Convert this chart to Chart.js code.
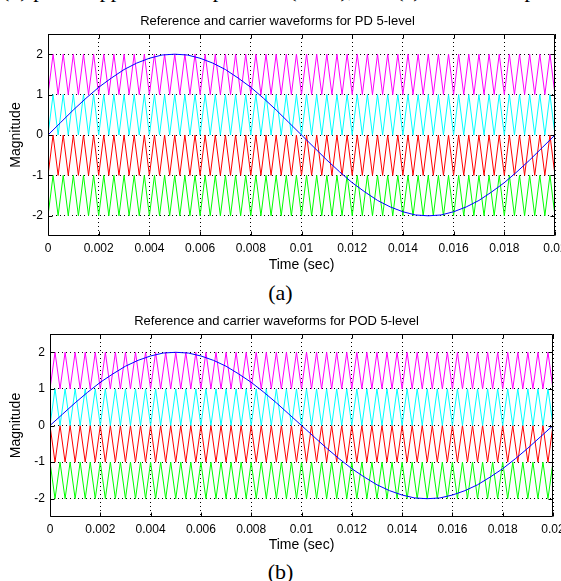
<!DOCTYPE html>
<html>
<head>
<meta charset="utf-8">
<script src="https://cdn.jsdelivr.net/npm/chart.js@4/dist/chart.umd.min.js"></script>
<style>
    body { margin: 0; background: #fff; }
    #page { position: relative; width: 561px; height: 581px; overflow: hidden; background: #fff; }
    #page canvas { position: absolute; left: 0; }
    .caption { position: absolute; left: 0; width: 561px; text-align: center; font-family: "Liberation Serif", "DejaVu Serif", serif; color: #000; white-space: nowrap; }
</style>
</head>
<body>
<div id="page">
    <div class="caption" style="top:-23px; font-size:22px; text-align:left; left:2px;">(b) phase opposition disposition (POD), and (c) alternative phase</div>
    <canvas id="pdChart" width="561" height="262" style="top:12px"></canvas>
    <div class="caption" style="top:280px; font-size:22px;">(a)</div>
    <canvas id="podChart" width="561" height="242" style="top:312px"></canvas>
    <div class="caption" style="top:559px; font-size:22px;">(b)</div>
</div>
<script>
// Reference sine (blue), sampled every 0.0005 s
const sineTimes = [
    0, 0.0005, 0.001, 0.0015, 0.002, 0.0025, 0.003, 0.0035, 0.004, 0.0045,
    0.005, 0.0055, 0.006, 0.0065, 0.007, 0.0075, 0.008, 0.0085, 0.009, 0.0095,
    0.01, 0.0105, 0.011, 0.0115, 0.012, 0.0125, 0.013, 0.0135, 0.014, 0.0145,
    0.015, 0.0155, 0.016, 0.0165, 0.017, 0.0175, 0.018, 0.0185, 0.019, 0.0195,
    0.02
];
const sineValues = [
    0, 0.31, 0.62, 0.91, 1.18, 1.41, 1.62, 1.78, 1.90, 1.98,
    2.0, 1.98, 1.90, 1.78, 1.62, 1.41, 1.18, 0.91, 0.62, 0.31,
    0, -0.31, -0.62, -0.91, -1.18, -1.41, -1.62, -1.78, -1.90, -1.98,
    -2.0, -1.98, -1.90, -1.78, -1.62, -1.41, -1.18, -0.91, -0.62, -0.31,
    0
];

// Triangle carrier vertices (time of each corner)
const carrierTimes = [
    0, 0.0002, 0.0004, 0.0006, 0.0008, 0.001, 0.0012, 0.0014, 0.0016, 0.0018,
    0.002, 0.0022, 0.0024, 0.0026, 0.0028, 0.003, 0.0032, 0.0034, 0.0036, 0.0038,
    0.004, 0.0042, 0.0044, 0.0046, 0.0048, 0.005, 0.0052, 0.0054, 0.0056, 0.0058,
    0.006, 0.0062, 0.0064, 0.0066, 0.0068, 0.007, 0.0072, 0.0074, 0.0076, 0.0078,
    0.008, 0.0082, 0.0084, 0.0086, 0.0088, 0.009, 0.0092, 0.0094, 0.0096, 0.0098,
    0.01, 0.0102, 0.0104, 0.0106, 0.0108, 0.011, 0.0112, 0.0114, 0.0116, 0.0118,
    0.012, 0.0122, 0.0124, 0.0126, 0.0128, 0.013, 0.0132, 0.0134, 0.0136, 0.0138,
    0.014, 0.0142, 0.0144, 0.0146, 0.0148, 0.015, 0.0152, 0.0154, 0.0156, 0.0158,
    0.016, 0.0162, 0.0164, 0.0166, 0.0168, 0.017, 0.0172, 0.0174, 0.0176, 0.0178,
    0.018, 0.0182, 0.0184, 0.0186, 0.0188, 0.019, 0.0192, 0.0194, 0.0196, 0.0198,
    0.02
];
// 0 = bottom of the band, 1 = top of the band
const carrierShape = [
    0, 1, 0, 1, 0, 1, 0, 1, 0, 1,
    0, 1, 0, 1, 0, 1, 0, 1, 0, 1,
    0, 1, 0, 1, 0, 1, 0, 1, 0, 1,
    0, 1, 0, 1, 0, 1, 0, 1, 0, 1,
    0, 1, 0, 1, 0, 1, 0, 1, 0, 1,
    0, 1, 0, 1, 0, 1, 0, 1, 0, 1,
    0, 1, 0, 1, 0, 1, 0, 1, 0, 1,
    0, 1, 0, 1, 0, 1, 0, 1, 0, 1,
    0, 1, 0, 1, 0, 1, 0, 1, 0, 1,
    0, 1, 0, 1, 0, 1, 0, 1, 0, 1,
    0
];

// Carrier bands (lower edge of each band)
const carrierNames = ['Carrier 1', 'Carrier 2', 'Carrier 3', 'Carrier 4'];
const carrierLevels = [1, 0, -1, -2];
const pdInverted = [false, false, false, false];
const podInverted = [false, false, true, true];

// Axis ticks
const xTickValues = [0, 0.002, 0.004, 0.006, 0.008, 0.01, 0.012, 0.014, 0.016, 0.018, 0.02];
const xTickLabels = ['0', '0.002', '0.004', '0.006', '0.008', '0.01', '0.012', '0.014', '0.016', '0.018', '0.02'];
const yTickValues = [-2, -1, 0, 1, 2];
const yTickLabels = ['-2', '-1', '0', '1', '2'];

const carrierColors = ['rgb(255, 0, 255)', 'rgb(0, 255, 255)', 'rgb(255, 0, 0)', 'rgb(0, 255, 0)'];
const FONT = '"Liberation Sans", Arial, sans-serif';

// Box around the axes plus MATLAB style inward tick marks
const axesBoxPlugin = {
    id: 'axesBox',
    afterDraw(chart) {
        const { ctx, chartArea: a, scales: { x, y } } = chart;
        const l = Math.round(a.left) + 0.5, r = Math.round(a.right) - 0.5;
        const t = Math.round(a.top) + 0.5, b = Math.round(a.bottom) - 0.5;
        ctx.save();
        ctx.strokeStyle = '#000';
        ctx.lineWidth = 1;
        ctx.beginPath();
        ctx.rect(l, t, r - l, b - t);
        x.ticks.forEach(tk => {
            const px = Math.round(x.getPixelForValue(tk.value)) + 0.5;
            ctx.moveTo(px, b); ctx.lineTo(px, b - 4);
            ctx.moveTo(px, t); ctx.lineTo(px, t + 4);
        });
        y.ticks.forEach(tk => {
            const py = Math.round(y.getPixelForValue(tk.value)) + 0.5;
            ctx.moveTo(l, py); ctx.lineTo(l + 4, py);
            ctx.moveTo(r, py); ctx.lineTo(r - 4, py);
        });
        ctx.stroke();
        ctx.restore();
    }
};

const WaveCharts = {
    charts: {},

    // Build datasets: reference on top, carriers beneath
    buildDatasets(inverted) {
        const sets = [{
            label: 'Reference',
            data: sineTimes.map((t, i) => ({ x: t, y: sineValues[i] })),
            borderColor: 'rgb(0, 0, 255)',
            borderWidth: 1
        }];
        carrierNames.forEach((name, c) => {
            sets.push({
                label: name,
                data: carrierTimes.map((t, i) => ({
                    x: t,
                    y: carrierLevels[c] + (inverted[c] ? 1 - carrierShape[i] : carrierShape[i])
                })),
                borderColor: carrierColors[c],
                borderWidth: 1
            });
        });
        return sets;
    },

    createWaveformChart(canvasId, title, inverted, box) {
        const ctx = document.getElementById(canvasId).getContext('2d');
        this.charts[canvasId] = new Chart(ctx, {
            type: 'line',
            data: { datasets: this.buildDatasets(inverted) },
            plugins: [axesBoxPlugin],
            options: {
                responsive: false,
                animation: false,
                devicePixelRatio: 1,
                elements: { point: { radius: 0 }, line: { tension: 0 } },
                layout: { padding: { left: 0, right: box.right, top: 0, bottom: 0 } },
                plugins: {
                    legend: { display: false },
                    tooltip: { enabled: false },
                    title: {
                        display: true,
                        text: title,
                        color: '#000',
                        font: { family: FONT, size: 13, weight: 'normal' },
                        padding: { top: 1.7, bottom: 4.7 }
                    }
                },
                scales: {
                    x: {
                        type: 'linear',
                        min: 0,
                        max: 0.02,
                        afterBuildTicks: s => { s.ticks = xTickValues.map(v => ({ value: v })); },
                        afterFit: s => { s.height = box.xHeight; s.paddingLeft = 0; s.paddingRight = 0; },
                        grid: { color: '#000', lineWidth: 1, drawTicks: false },
                        border: { display: false, dash: [1, 3] },
                        ticks: {
                            color: '#000',
                            font: { family: FONT, size: 12 },
                            padding: 5,
                            autoSkip: false,
                            maxRotation: 0,
                            callback: (v, i) => xTickLabels[i]
                        },
                        title: {
                            display: true,
                            text: 'Time (sec)',
                            color: '#000',
                            font: { family: FONT, size: 14 },
                            padding: { top: 0, bottom: 0 }
                        }
                    },
                    y: {
                        min: -2.5,
                        max: 2.5,
                        afterBuildTicks: s => { s.ticks = yTickValues.map(v => ({ value: v })); },
                        afterFit: s => { s.width = box.yWidth; s.paddingTop = 0; s.paddingBottom = 0; },
                        grid: { color: '#000', lineWidth: 1, drawTicks: false },
                        border: { display: false, dash: [1, 3] },
                        ticks: {
                            color: '#000',
                            font: { family: FONT, size: 12 },
                            padding: 5,
                            callback: (v, i) => yTickLabels[i]
                        },
                        title: {
                            display: true,
                            text: 'Magnitude',
                            color: '#000',
                            font: { family: FONT, size: 14 },
                            padding: { top: 7.6, bottom: 0 }
                        }
                    }
                }
            }
        });
    }
};

WaveCharts.createWaveformChart('pdChart', 'Reference and carrier waveforms for PD 5-level', pdInverted,
    { right: 6, xHeight: 38, yWidth: 48 });
WaveCharts.createWaveformChart('podChart', 'Reference and carrier waveforms for POD 5-level', podInverted,
    { right: 8, xHeight: 37, yWidth: 50 });
</script>
</body>
</html>
